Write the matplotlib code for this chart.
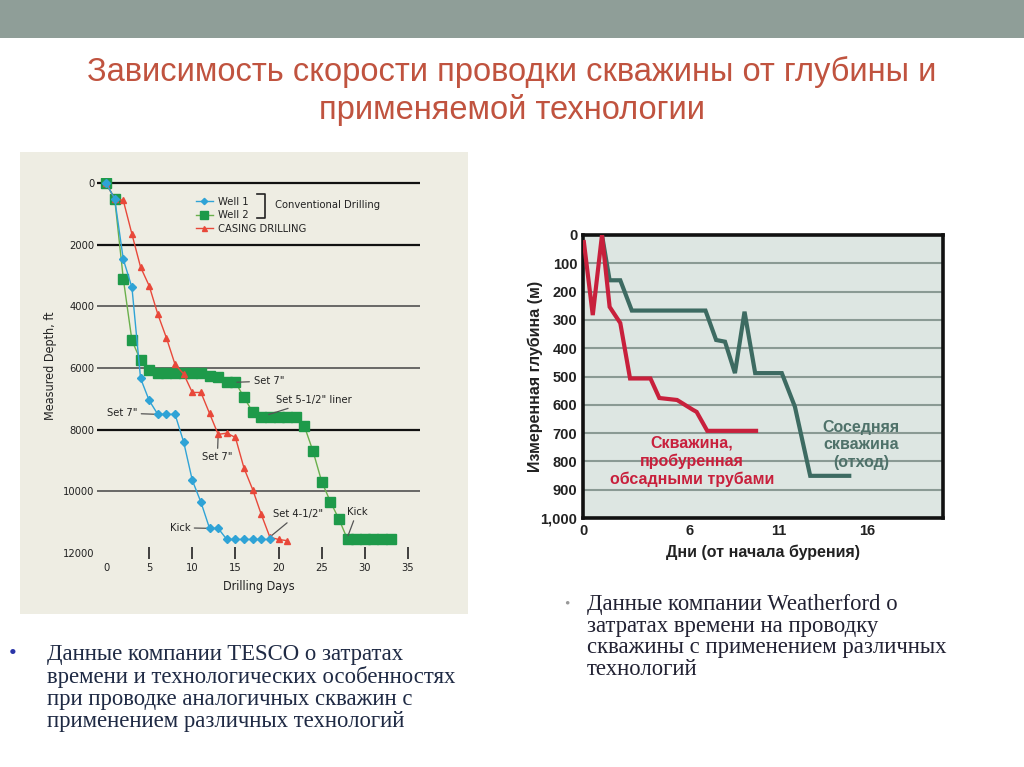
import matplotlib
matplotlib.use("Agg")
import matplotlib.pyplot as plt
from matplotlib.lines import Line2D
from matplotlib.patches import Rectangle

NARROW = ["DejaVu Sans"]
SANS = ["Liberation Sans", "DejaVu Sans"]
SERIF = ["Liberation Serif", "DejaVu Serif"]

# --- TESCO chart (left) ---
well1_days = list(range(0, 20))
well1_depth = [0, 500, 2470, 3380, 6330, 7050, 7500, 7500, 7500, 8400,
               9640, 10350, 11200, 11200, 11560, 11560, 11560, 11560, 11560, 11560]

well2_days = list(range(0, 34))
well2_depth = [0, 500, 3100, 5100, 5750, 6050, 6150, 6150, 6150, 6150,
               6150, 6170, 6270, 6290, 6460, 6460, 6950, 7430, 7590, 7590,
               7590, 7590, 7590, 7890, 8700, 9680, 10330, 10900, 11560, 11560,
               11560, 11560, 11560, 11560]

casing_days = list(range(0, 22))
casing_depth = [0, 500, 560, 1650, 2720, 3330, 4250, 5020, 5880, 6190,
                6790, 6790, 7470, 8150, 8110, 8250, 9250, 9940, 10750, 11490,
                11560, 11600]

left_xticks = [0, 5, 10, 15, 20, 25, 30, 35]
left_yticks = [0, 2000, 4000, 6000, 8000, 10000, 12000]

# --- Weatherford chart (right) ---
cd_days = [0.05, 0.55, 1.07, 1.5, 2.1, 2.65, 3.8, 4.3, 5.3, 6.2, 6.4, 7.0, 9.75]
cd_depth = [25, 283, 0, 254, 311, 507, 507, 576, 583, 618, 625, 692, 692]

nb_days = [1.07, 1.5, 2.1, 2.75, 6.9, 7.5, 8.0, 8.56, 9.1, 9.7, 11.2, 11.94, 12.8, 15.0]
nb_depth = [0, 160, 160, 267, 267, 371, 377, 488, 271, 488, 488, 607, 851, 851]

right_xticks = [0, 6, 11, 16]
right_yticks = [0, 100, 200, 300, 400, 500, 600, 700, 800, 900, 1000]
right_ylabels = ["0", "100", "200", "300", "400", "500", "600", "700", "800", "900", "1,000"]

W, H = 1024, 767


def fx(px):
    return px / W


def fy(py):
    return 1 - py / H


fig = plt.figure(figsize=(10.24, 7.67), dpi=100)
fig.patch.set_facecolor("white")

# top band
fig.patches.append(Rectangle((0, fy(38)), 1, 38 / H, transform=fig.transFigure,
                             facecolor="#8f9e98", edgecolor="none", zorder=-2))
title_color = "#c0533f"
fig.text(0.5, fy(72), "Зависимость скорости проводки скважины от глубины и",
         ha="center", va="center", fontsize=23.5, color=title_color, family=SANS)
fig.text(0.5, fy(110), "применяемой технологии",
         ha="center", va="center", fontsize=23.5, color=title_color, family=SANS)

# left panel background
fig.patches.append(Rectangle((fx(20), fy(614)), 448 / W, 462 / H, transform=fig.transFigure,
                             facecolor="#eeede3", edgecolor="none", zorder=-2))

ax = fig.add_axes([fx(97), fy(553), 323 / W, (553 - 178) / H])
ax.set_facecolor("none")
ax.set_xlim(-1.05, 36.4)
ax.set_ylim(12000, -170)
for s in ax.spines.values():
    s.set_visible(False)
for d in left_yticks[:-1]:
    heavy = d in (0, 2000, 8000)
    ax.axhline(d, color="#111111" if heavy else "#444444", lw=1.6 if heavy else 1.1, zorder=1)

ax.plot(well2_days, well2_depth, color="#6ab04c", lw=1.0, marker="s", ms=6.5,
        mfc="#1e9a4a", mec="#1e9a4a", zorder=3, label="Well 2")
ax.plot(casing_days, casing_depth, color="#e8483a", lw=1.0, marker="^", ms=4.5,
        mfc="#e8483a", mec="#e8483a", zorder=4, label="CASING DRILLING")
ax.plot(well1_days, well1_depth, color="#2fa3d6", lw=1.0, marker="D", ms=4,
        mfc="#2fa3d6", mec="#2fa3d6", zorder=5, label="Well 1")

ax.set_xticks(left_xticks)
ax.set_yticks(left_yticks)
ax.tick_params(axis="x", direction="inout", length=9, width=1.2, color="#222222",
               labelsize=8, pad=3)
ax.xaxis.get_major_ticks()[0].tick1line.set_visible(False)
ax.tick_params(axis="y", length=0, labelsize=8, pad=2)
for lab in ax.get_xticklabels() + ax.get_yticklabels():
    lab.set_family(NARROW)
    lab.set_fontstretch("condensed")
    lab.set_color("#222222")
ax.set_xlabel("Drilling Days", family=NARROW, fontstretch="condensed", fontsize=9,
              color="#222222", labelpad=5)
ax.set_ylabel("Measured Depth, ft", family=NARROW, fontstretch="condensed", fontsize=9,
              color="#222222", labelpad=4)

# legend
h1, l1 = ax.get_legend_handles_labels()
order = [2, 0, 1]
leg = ax.legend([h1[i] for i in order], [l1[i] for i in order], loc="upper left",
                bbox_to_anchor=(fx(190), fy(191)), bbox_transform=fig.transFigure,
                frameon=False, handlelength=1.6, handletextpad=0.4, labelspacing=0.35,
                borderpad=0, markerscale=0.8,
                prop={"family": NARROW, "stretch": "condensed", "size": 8})
for t in leg.get_texts():
    t.set_color("#222222")
fig.lines.append(Line2D([fx(257), fx(265), fx(265), fx(257)],
                        [fy(194), fy(194), fy(218), fy(218)],
                        transform=fig.transFigure, color="#222222", lw=1.2))
fig.text(fx(275), fy(205), "Conventional Drilling", ha="left", va="center",
         family=NARROW, fontstretch="condensed", fontsize=8, color="#222222")

# annotations
ann = dict(family=NARROW, fontstretch="condensed", fontsize=8, color="#222222")
arr = dict(arrowstyle="-", color="#555555", lw=0.9, shrinkA=1, shrinkB=1)
ax.annotate('Set 7"', xy=(6, 7500), xytext=(3.6, 7460), ha="right", va="center",
            arrowprops=arr, **ann)
ax.annotate('Set 7"', xy=(13, 8150), xytext=(12.9, 8900), ha="center", va="center",
            arrowprops=arr, **ann)
ax.annotate('Set 7"', xy=(15, 6460), xytext=(17.1, 6420), ha="left", va="center",
            arrowprops=arr, **ann)
ax.annotate('Set 5-1/2" liner', xy=(18.7, 7520), xytext=(19.7, 7040), ha="left", va="center",
            arrowprops=arr, **ann)
ax.annotate('Set 4-1/2"', xy=(19, 11480), xytext=(19.3, 10740), ha="left", va="center",
            arrowprops=arr, **ann)
ax.annotate("Kick", xy=(12, 11200), xytext=(9.75, 11180), ha="right", va="center",
            arrowprops=arr, **ann)
ax.annotate("Kick", xy=(28, 11480), xytext=(29.1, 10660), ha="center", va="center",
            arrowprops=arr, **ann)

# right chart
ax2 = fig.add_axes([fx(583), fy(518), 360 / W, 283 / H])
ax2.set_facecolor("#dde6e2")
ax2.set_xlim(0, 360 / 17.75)
ax2.set_ylim(1000, 0)
for d in right_yticks[1:-1]:
    ax2.axhline(d, color="#8a9a94", lw=1.5, zorder=1)
for s in ax2.spines.values():
    s.set_linewidth(2.6)
    s.set_color("#111111")
ax2.plot(nb_days, nb_depth, color="#3d6b62", lw=3.0, zorder=3, solid_joinstyle="miter")
ax2.plot(cd_days, cd_depth, color="#c8203c", lw=3.0, zorder=4, solid_joinstyle="miter")
ax2.set_xticks(right_xticks)
ax2.set_yticks(right_yticks)
ax2.set_yticklabels(right_ylabels)
ax2.tick_params(length=0, labelsize=10.5, pad=4, labelcolor="#222222")
for lab in ax2.get_xticklabels() + ax2.get_yticklabels():
    lab.set_family(SANS)
    lab.set_fontweight("bold")
ax2.set_xlabel("Дни (от начала бурения)", family=SANS, fontweight="bold", fontsize=11.5,
               color="#222222", labelpad=5)
ax2.set_ylabel("Измеренная глубина (м)", family=SANS, fontweight="bold", fontsize=11.5,
               color="#222222", labelpad=-2)
ax2.text(6.14, 799, "Скважина,\nпробуренная\nобсадными трубами", ha="center", va="center",
         family=SANS, fontweight="bold", fontsize=11.5, color="#c8203c", linespacing=1.2)
ax2.text(15.66, 742, "Соседняя\nскважина\n(отход)", ha="center", va="center",
         family=SANS, fontweight="bold", fontsize=11.5, color="#4f726a", linespacing=1.2)

# bullet texts
fig.text(fx(9), fy(655), "•", ha="left", va="center", fontsize=16, color="#2a35a8", family=SERIF)
fig.text(fx(47), fy(688), "Данные компании TESCO о затратах\nвремени и технологических особенностях\n"
         "при проводке аналогичных скважин с\nприменением различных технологий",
         ha="left", va="center", fontsize=16.4, color="#1f2a44", family=SERIF, linespacing=1.05)
fig.text(fx(564), fy(604), "•", ha="left", va="center", fontsize=11, color="#999999", family=SERIF)
fig.text(fx(587), fy(637), "Данные компании Weatherford о\nзатратах времени на проводку\n"
         "скважины с применением различных\nтехнологий",
         ha="left", va="center", fontsize=16.4, color="#222233", family=SERIF, linespacing=1.05)

fig.savefig("out.png", dpi=100)
